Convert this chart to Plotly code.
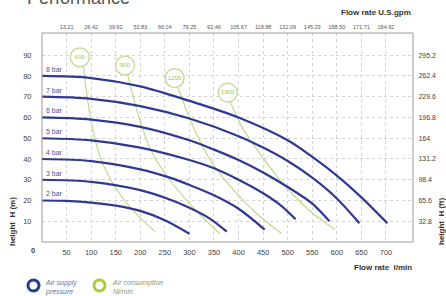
import plotly.graph_objects as go

# ---------------- data ----------------
bar_labels = ["2 bar", "3 bar", "4 bar", "5 bar", "6 bar", "7 bar", "8 bar"]
bar_x = [
    [0, 50, 100, 150, 200, 250, 300],
    [0, 100, 200, 260, 300, 340, 376],
    [0, 100, 200, 260, 300, 350, 400, 453],
    [0, 100, 200, 300, 350, 400, 450, 484, 516],
    [0, 100, 200, 300, 350, 400, 450, 500, 550, 585],
    [0, 100, 200, 300, 400, 450, 500, 550, 600, 646],
    [0, 100, 200, 300, 400, 500, 550, 600, 650, 703],
]
bar_h = [
    [20, 19.8, 19, 17.5, 15, 10.5, 4],
    [30, 29, 25, 20.5, 16.5, 11.5, 5],
    [40, 39, 35, 31, 27.5, 22.5, 16, 6],
    [50, 49, 45.5, 39.5, 35.5, 30, 23.5, 18, 11],
    [60, 59, 55.5, 49, 44.5, 39.5, 33.5, 26.5, 18.5, 10],
    [70, 69, 65.5, 59.5, 51, 45.5, 39, 31, 21, 9],
    [80, 79, 75, 68, 60, 49, 41, 32, 21.5, 9],
]

air_labels = ["600", "900", "1200", "1800"]
air_label_x = [77, 169, 270, 378]
air_label_y = [89, 85, 79, 72]
air_x = [
    [84, 100, 120, 150, 190, 230],
    [175, 195, 222, 260, 310, 362],
    [276, 305, 341, 390, 440, 488],
    [382, 408, 439, 484, 540, 596],
]
air_h = [
    [85, 58, 40, 26, 14, 5],
    [80, 62, 44, 30, 16, 4],
    [75, 57, 40, 25, 13, 4],
    [68, 55, 44, 30, 16, 6],
]

x_ticks = [50, 100, 150, 200, 250, 300, 350, 400, 450, 500, 550, 600, 650, 700]
gpm_labels = ["13.21", "26.42", "39.62", "52.83", "66.04", "79.25", "92.46",
              "105.67", "118.88", "132.09", "145.29", "158.50", "171.71", "184.92"]
y_ticks = [10, 20, 30, 40, 50, 60, 70, 80, 90]
ft_labels = ["32.8", "65.6", "98.4", "131.2", "164", "196.8", "229.6", "262.4", "295.2"]

# ---------------- style ----------------
BLUE = "#2e3a92"
GREEN = "#bddb8e"
GREEN_TXT = "#9cc45a"
FONT = "Liberation Sans"
W, H = 446, 296
L, R, T, B = 42, 33, 33, 54
PW, PH = W - L - R, H - T - B

def px(x):
    return (x - L) / PW

def py(y):
    return (H - B - y) / PH

fig = go.Figure()

for xs, hs in zip(air_x, air_h):
    fig.add_trace(go.Scatter(x=xs, y=hs, mode="lines",
                             line=dict(color=GREEN, width=1.2, shape="spline", smoothing=0.9),
                             hoverinfo="skip", showlegend=False))

for xs, hs in zip(bar_x, bar_h):
    fig.add_trace(go.Scatter(x=xs, y=hs, mode="lines",
                             line=dict(color=BLUE, width=2.2, shape="spline", smoothing=0.9),
                             hoverinfo="skip", showlegend=False))

fig.add_trace(go.Scatter(x=air_label_x, y=air_label_y, mode="markers+text", text=air_labels,
                         textposition="middle center",
                         textfont=dict(family=FONT, size=6, color=GREEN_TXT),
                         marker=dict(size=19, color="white", line=dict(color=GREEN, width=1.3)),
                         hoverinfo="skip", showlegend=False))

# helper trace for the top / right axes
fig.add_trace(go.Scatter(x=[0], y=[0], xaxis="x2", yaxis="y2", mode="markers",
                         marker=dict(opacity=0), hoverinfo="skip", showlegend=False))

annotations = []
for lab, hs in zip(bar_labels, bar_h):
    annotations.append(dict(x=4, y=hs[0] + 3.2, text=lab, xref="x", yref="y", showarrow=False,
                            xanchor="left", yanchor="middle",
                            font=dict(family=FONT, size=7, color="#3a55a8")))

def ann(xp, yp, text, size, color, xanchor="center", yanchor="middle", angle=0,
        bold=False, italic=False, align="left"):
    if bold:
        text = "<b>" + text + "</b>"
    if italic:
        text = "<i>" + text + "</i>"
    annotations.append(dict(x=px(xp), y=py(yp), xref="paper", yref="paper", text=text, showarrow=False,
                            xanchor=xanchor, yanchor=yanchor, textangle=angle, align=align,
                            font=dict(family=FONT, size=size, color=color)))

ann(25, -2, "Performance", 18, "#555555", xanchor="left")
ann(413, 12, "Flow rate U.S.gpm", 8, "#333333", xanchor="right", bold=True)
ann(414, 267, "Flow rate  l/min", 8, "#333333", xanchor="right", bold=True)
ann(33, 250, "0", 7.5, "#444444", bold=True)
ann(12, 222, "height  H (m)", 8, "#333333", angle=-90, bold=True)
ann(441, 222, "height  H (ft)", 8, "#333333", angle=-90, bold=True)
ann(43, 287, "Air supply<br>pressure", 7, "#5a78b0", xanchor="left", italic=True)
ann(110, 287, "Air consumption<br>Nl/min", 7, "#8c9a70", xanchor="left", italic=True)

shapes = [
    dict(type="circle", xref="paper", yref="paper", x0=px(28), x1=px(39), y0=py(291), y1=py(280),
         line=dict(color="#1f3f8f", width=3)),
    dict(type="circle", xref="paper", yref="paper", x0=px(94), x1=px(105), y0=py(291), y1=py(280),
         line=dict(color="#a6cc3a", width=3)),
    dict(type="rect", xref="paper", yref="paper", x0=0, x1=1, y0=0, y1=1,
         line=dict(color="#9a9a9a", width=1)),
]

fig.update_layout(
    width=W, height=H,
    margin=dict(l=L, r=R, t=T, b=B, autoexpand=False),
    paper_bgcolor="white", plot_bgcolor="white",
    font=dict(family=FONT),
    xaxis=dict(range=[0, 755], tickvals=x_ticks, showgrid=True, gridcolor="#d4d4d4", griddash="dot",
               gridwidth=1, zeroline=False, showline=False, automargin=False,
               ticks="outside", ticklen=3, tickcolor="rgba(0,0,0,0)",
               tickfont=dict(family=FONT, size=7.5, color="#444444")),
    yaxis=dict(range=[0, 100.7], tickvals=y_ticks, showgrid=True, gridcolor="#d4d4d4", griddash="dot",
               gridwidth=1, zeroline=False, showline=False, automargin=False,
               ticks="outside", ticklen=8, tickcolor="rgba(0,0,0,0)",
               tickfont=dict(family=FONT, size=7.5, color="#444444")),
    xaxis2=dict(range=[0, 755], overlaying="x", side="top", tickvals=x_ticks, ticktext=gpm_labels,
                showgrid=False, zeroline=False, automargin=False,
                ticks="outside", ticklen=1, tickcolor="rgba(0,0,0,0)",
                tickfont=dict(family=FONT, size=5.5, color="#555555")),
    yaxis2=dict(range=[0, 100.7], overlaying="y", side="right", tickvals=y_ticks, ticktext=ft_labels,
                showgrid=False, zeroline=False, automargin=False,
                ticks="outside", ticklen=3, tickcolor="rgba(0,0,0,0)",
                tickfont=dict(family=FONT, size=7, color="#444444")),
    annotations=annotations,
    shapes=shapes,
)

fig.write_html("out.html", config={"displayModeBar": False},
               post_script="document.body.style.margin='0px';document.body.style.overflow='hidden';")
